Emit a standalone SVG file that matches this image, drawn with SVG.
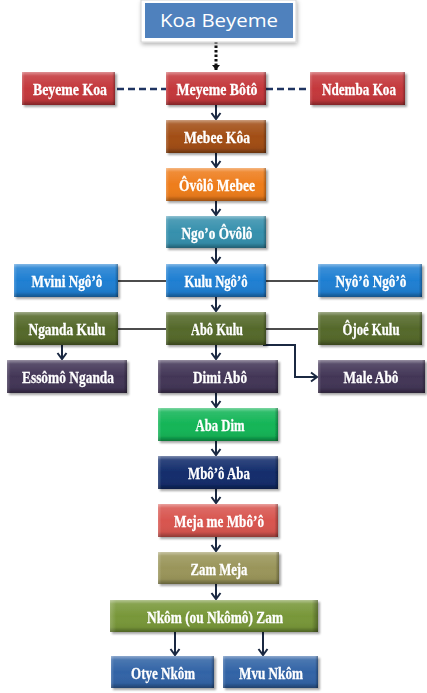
<svg xmlns="http://www.w3.org/2000/svg" width="427" height="693" viewBox="0 0 427 693">
<defs>
<filter id="sh" x="-10%" y="-20%" width="125%" height="160%">
<feDropShadow dx="2" dy="2" stdDeviation="1.3" flood-color="#000" flood-opacity="0.35"/>
</filter>
<filter id="sh2" x="-10%" y="-20%" width="125%" height="160%">
<feDropShadow dx="1" dy="2" stdDeviation="2" flood-color="#000" flood-opacity="0.3"/>
</filter>
<linearGradient id="bv" x1="0" y1="0" x2="0" y2="1">
<stop offset="0" stop-color="#fff" stop-opacity="0.45"/>
<stop offset="0.12" stop-color="#fff" stop-opacity="0.12"/>
<stop offset="0.5" stop-color="#fff" stop-opacity="0"/>
<stop offset="0.85" stop-color="#000" stop-opacity="0.05"/>
<stop offset="1" stop-color="#000" stop-opacity="0.35"/>
</linearGradient>
<linearGradient id="bh" x1="0" y1="0" x2="1" y2="0">
<stop offset="0" stop-color="#fff" stop-opacity="0.2"/>
<stop offset="0.03" stop-color="#fff" stop-opacity="0"/>
<stop offset="0.97" stop-color="#000" stop-opacity="0"/>
<stop offset="1" stop-color="#000" stop-opacity="0.3"/>
</linearGradient>
<marker id="ar" viewBox="-8 -6 10 12" refX="0" refY="0" markerWidth="10" markerHeight="12" markerUnits="userSpaceOnUse" orient="auto">
<path d="M-6,-4.5 L0,0 L-6,4.5" fill="none" stroke="#1b2942" stroke-width="2"/>
</marker>
<marker id="ard" viewBox="-6 -5 7 10" refX="0" refY="0" markerWidth="7" markerHeight="10" markerUnits="userSpaceOnUse" orient="auto">
<path d="M-5,-4 L0,0 L-5,4 Z" fill="#111"/>
</marker>
</defs>
<style>
.n{filter:url(#sh)}
.n text{font-family:"Liberation Serif","Times New Roman",serif;font-weight:bold;font-size:17px;fill:#fff;text-anchor:middle;stroke:#fff;stroke-width:0.3}
.bv{fill:url(#bv)}
.bh{fill:url(#bh)}
.red{fill:#c4383c}
.brown{fill:#a24e16}
.orange{fill:#ee7d1c}
.teal{fill:#3690ad}
.blue{fill:#1f7fd2}
.olive{fill:#55692b}
.purple{fill:#433657}
.green{fill:#13b557}
.navy{fill:#132d6c}
.salmon{fill:#d8554f}
.khaki{fill:#9a955a}
.lime{fill:#789739}
.steel{fill:#3264a6}
.c{fill:none;stroke:#1b2942;stroke-width:2}
.s{fill:none;stroke:#111;stroke-width:1.6}
.d{fill:none;stroke:#1f3461;stroke-width:2.6;stroke-dasharray:7,4}
</style>

<g id="connectors">
<path d="M216,41 V70" fill="none" stroke="#111" stroke-width="3" stroke-dasharray="2.5,2" marker-end="url(#ard)"/>
<path class="d" d="M117,89 H166"/>
<path class="d" d="M266,89 H310"/>
<path class="c" d="M216,105 V119" marker-end="url(#ar)"/>
<path class="c" d="M216,153 V167" marker-end="url(#ar)"/>
<path class="c" d="M216,201 V215" marker-end="url(#ar)"/>
<path class="c" d="M216,248 V263" marker-end="url(#ar)"/>
<path class="s" d="M118,281 H166"/>
<path class="s" d="M266,281 H318"/>
<path class="c" d="M216,297 V311" marker-end="url(#ar)"/>
<path class="s" d="M118,329 H166"/>
<path class="s" d="M266,329 H318"/>
<path class="c" d="M62,345 V359" marker-end="url(#ar)"/>
<path class="c" d="M216,345 V359" marker-end="url(#ar)"/>
<path class="c" d="M263,345 H295 V377 H317" marker-end="url(#ar)"/>
<path class="c" d="M216,393 V407" marker-end="url(#ar)"/>
<path class="c" d="M216,441 V455" marker-end="url(#ar)"/>
<path class="c" d="M216,489 V503" marker-end="url(#ar)"/>
<path class="c" d="M216,537 V551" marker-end="url(#ar)"/>
<path class="c" d="M216,584 V599" marker-end="url(#ar)"/>
<path class="c" d="M175,632 V655" marker-end="url(#ar)"/>
<path class="c" d="M263,632 V655" marker-end="url(#ar)"/>
</g>

<g id="koa_beyeme">
<rect x="141" y="0" width="155" height="42" fill="#fff" stroke="#d4d4d4" stroke-width="1" filter="url(#sh2)"/>
<rect x="145" y="3" width="148" height="35" fill="#4f81bd"/>
<text x="219" y="27" font-family="'Open Sans','Noto Sans','DejaVu Sans',sans-serif" font-size="18" fill="#fff" text-anchor="middle" textLength="118" lengthAdjust="spacingAndGlyphs">Koa Beyeme</text>
</g>

<g id="beyeme_koa" class="n"><rect class="red" x="22" y="72" width="93" height="33"/><rect class="bv" x="22" y="72" width="93" height="33"/><rect class="bh" x="22" y="72" width="93" height="33"/><text x="70" y="95" textLength="74" lengthAdjust="spacingAndGlyphs">Beyeme Koa</text></g>
<g id="meyeme_boto" class="n"><rect class="red" x="166" y="72" width="100" height="33"/><rect class="bv" x="166" y="72" width="100" height="33"/><rect class="bh" x="166" y="72" width="100" height="33"/><text x="217" y="95" textLength="81" lengthAdjust="spacingAndGlyphs">Meyeme Bôtô</text></g>
<g id="ndemba_koa" class="n"><rect class="red" x="310" y="72" width="95" height="33"/><rect class="bv" x="310" y="72" width="95" height="33"/><rect class="bh" x="310" y="72" width="95" height="33"/><text x="359" y="95" textLength="74" lengthAdjust="spacingAndGlyphs">Ndemba Koa</text></g>

<g id="mebee_koa" class="n"><rect class="brown" x="166" y="120" width="100" height="33"/><rect class="bv" x="166" y="120" width="100" height="33"/><rect class="bh" x="166" y="120" width="100" height="33"/><text x="217" y="143" textLength="66" lengthAdjust="spacingAndGlyphs">Mebee Kôa</text></g>
<g id="ovolo_mebee" class="n"><rect class="orange" x="166" y="168" width="100" height="33"/><rect class="bv" x="166" y="168" width="100" height="33"/><rect class="bh" x="166" y="168" width="100" height="33"/><text x="217" y="191" textLength="76" lengthAdjust="spacingAndGlyphs">Ôvôlô Mebee</text></g>
<g id="ngoo_ovolo" class="n"><rect class="teal" x="166" y="216" width="100" height="32"/><rect class="bv" x="166" y="216" width="100" height="32"/><rect class="bh" x="166" y="216" width="100" height="32"/><text x="217" y="239" textLength="71" lengthAdjust="spacingAndGlyphs">Ngo’o Ôvôlô</text></g>

<g id="mvini_ngoo" class="n"><rect class="blue" x="14" y="264" width="104" height="33"/><rect class="bv" x="14" y="264" width="104" height="33"/><rect class="bh" x="14" y="264" width="104" height="33"/><text x="67" y="287" textLength="71" lengthAdjust="spacingAndGlyphs">Mvini Ngô’ô</text></g>
<g id="kulu_ngoo" class="n"><rect class="blue" x="166" y="264" width="100" height="33"/><rect class="bv" x="166" y="264" width="100" height="33"/><rect class="bh" x="166" y="264" width="100" height="33"/><text x="216" y="287" textLength="63" lengthAdjust="spacingAndGlyphs">Kulu Ngô’ô</text></g>
<g id="nyoo_ngoo" class="n"><rect class="blue" x="318" y="264" width="104" height="33"/><rect class="bv" x="318" y="264" width="104" height="33"/><rect class="bh" x="318" y="264" width="104" height="33"/><text x="371" y="287" textLength="71" lengthAdjust="spacingAndGlyphs">Nyô’ô Ngô’ô</text></g>

<g id="nganda_kulu" class="n"><rect class="olive" x="14" y="312" width="104" height="33"/><rect class="bv" x="14" y="312" width="104" height="33"/><rect class="bh" x="14" y="312" width="104" height="33"/><text x="67" y="335" textLength="77" lengthAdjust="spacingAndGlyphs">Nganda Kulu</text></g>
<g id="abo_kulu" class="n"><rect class="olive" x="166" y="312" width="100" height="33"/><rect class="bv" x="166" y="312" width="100" height="33"/><rect class="bh" x="166" y="312" width="100" height="33"/><text x="217" y="335" textLength="52" lengthAdjust="spacingAndGlyphs">Abô Kulu</text></g>
<g id="ojoe_kulu" class="n"><rect class="olive" x="318" y="312" width="104" height="33"/><rect class="bv" x="318" y="312" width="104" height="33"/><rect class="bh" x="318" y="312" width="104" height="33"/><text x="371" y="335" textLength="57" lengthAdjust="spacingAndGlyphs">Ôjoé Kulu</text></g>

<g id="essomo_nganda" class="n"><rect class="purple" x="7" y="360" width="120" height="33"/><rect class="bv" x="7" y="360" width="120" height="33"/><rect class="bh" x="7" y="360" width="120" height="33"/><text x="68" y="383" textLength="92" lengthAdjust="spacingAndGlyphs">Essômô Nganda</text></g>
<g id="dimi_abo" class="n"><rect class="purple" x="158" y="360" width="120" height="33"/><rect class="bv" x="158" y="360" width="120" height="33"/><rect class="bh" x="158" y="360" width="120" height="33"/><text x="220" y="383" textLength="54" lengthAdjust="spacingAndGlyphs">Dimi Abô</text></g>
<g id="male_abo" class="n"><rect class="purple" x="318" y="360" width="107" height="33"/><rect class="bv" x="318" y="360" width="107" height="33"/><rect class="bh" x="318" y="360" width="107" height="33"/><text x="371" y="383" textLength="55" lengthAdjust="spacingAndGlyphs">Male Abô</text></g>

<g id="aba_dim" class="n"><rect class="green" x="158" y="408" width="120" height="33"/><rect class="bv" x="158" y="408" width="120" height="33"/><rect class="bh" x="158" y="408" width="120" height="33"/><text x="220" y="431" textLength="49" lengthAdjust="spacingAndGlyphs">Aba Dim</text></g>
<g id="mboo_aba" class="n"><rect class="navy" x="158" y="456" width="120" height="33"/><rect class="bv" x="158" y="456" width="120" height="33"/><rect class="bh" x="158" y="456" width="120" height="33"/><text x="219" y="479" textLength="62" lengthAdjust="spacingAndGlyphs">Mbô’ô Aba</text></g>
<g id="meja_me_mboo" class="n"><rect class="salmon" x="158" y="504" width="120" height="33"/><rect class="bv" x="158" y="504" width="120" height="33"/><rect class="bh" x="158" y="504" width="120" height="33"/><text x="219" y="527" textLength="90" lengthAdjust="spacingAndGlyphs">Meja me Mbô’ô</text></g>
<g id="zam_meja" class="n"><rect class="khaki" x="158" y="552" width="121" height="32"/><rect class="bv" x="158" y="552" width="121" height="32"/><rect class="bh" x="158" y="552" width="121" height="32"/><text x="219" y="575" textLength="57" lengthAdjust="spacingAndGlyphs">Zam Meja</text></g>
<g id="nkom_zam" class="n"><rect class="lime" x="110" y="600" width="208" height="32"/><rect class="bv" x="110" y="600" width="208" height="32"/><rect class="bh" x="110" y="600" width="208" height="32"/><text x="215" y="623" textLength="136" lengthAdjust="spacingAndGlyphs">Nkôm (ou Nkômô) Zam</text></g>
<g id="otye_nkom" class="n"><rect class="steel" x="111" y="656" width="103" height="32"/><rect class="bv" x="111" y="656" width="103" height="32"/><rect class="bh" x="111" y="656" width="103" height="32"/><text x="163" y="679" textLength="64" lengthAdjust="spacingAndGlyphs">Otye Nkôm</text></g>
<g id="mvu_nkom" class="n"><rect class="steel" x="223" y="656" width="95" height="32"/><rect class="bv" x="223" y="656" width="95" height="32"/><rect class="bh" x="223" y="656" width="95" height="32"/><text x="271" y="679" textLength="64" lengthAdjust="spacingAndGlyphs">Mvu Nkôm</text></g>
</svg>
